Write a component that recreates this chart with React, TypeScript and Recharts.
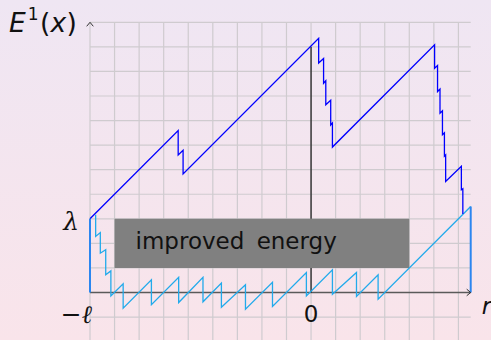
import React from "react";
import {
  ComposedChart,
  Line,
  XAxis,
  YAxis,
  CartesianGrid,
  ReferenceArea,
  ReferenceDot,
} from "recharts";

// grid ticks
const xTicks = [-9, -8, -7, -6, -5, -4, -3, -2, -1, 0, 1, 2, 3, 4, 5, 6];
const yTicks = [-2, -1, 0, 1, 2, 3, 4, 5, 6, 7, 8, 9, 10, 11];

// upper (dark blue) energy path
const upperPath = [
  { x: -9, y: 3 },
  { x: -5.41, y: 6.59 },
  { x: -5.41, y: 5.6 },
  { x: -5.21, y: 5.79 },
  { x: -5.21, y: 4.83 },
  { x: 0.31, y: 10.35 },
  { x: 0.31, y: 9.34 },
  { x: 0.51, y: 9.53 },
  { x: 0.51, y: 8.52 },
  { x: 0.6, y: 8.62 },
  { x: 0.6, y: 7.64 },
  { x: 0.8, y: 7.83 },
  { x: 0.8, y: 6.82 },
  { x: 0.87, y: 6.9 },
  { x: 0.87, y: 5.92 },
  { x: 5.03, y: 10.08 },
  { x: 5.03, y: 9.13 },
  { x: 5.15, y: 9.24 },
  { x: 5.15, y: 8.18 },
  { x: 5.25, y: 8.28 },
  { x: 5.25, y: 7.3 },
  { x: 5.35, y: 7.4 },
  { x: 5.35, y: 6.42 },
  { x: 5.43, y: 6.5 },
  { x: 5.43, y: 5.55 },
  { x: 5.48, y: 5.6 },
  { x: 5.48, y: 4.52 },
  { x: 6.12, y: 5.14 },
  { x: 6.12, y: 4.18 },
  { x: 6.18, y: 4.22 },
  { x: 6.18, y: 3.2 },
];

// lower (light blue) improved path
const lowerPath = [
  { x: -8.77, y: 3.16 },
  { x: -8.77, y: 2.28 },
  { x: -8.58, y: 2.44 },
  { x: -8.58, y: 1.6 },
  { x: -8.36, y: 1.74 },
  { x: -8.36, y: 0.72 },
  { x: -8.15, y: 0.88 },
  { x: -8.15, y: -0.14 },
  { x: -7.65, y: 0.35 },
  { x: -7.65, y: -0.64 },
  { x: -6.5, y: 0.52 },
  { x: -6.5, y: -0.5 },
  { x: -5.39, y: 0.62 },
  { x: -5.39, y: -0.41 },
  { x: -4.4, y: 0.62 },
  { x: -4.4, y: -0.38 },
  { x: -3.65, y: 0.38 },
  { x: -3.65, y: -0.6 },
  { x: -2.67, y: 0.31 },
  { x: -2.67, y: -0.68 },
  { x: -1.57, y: 0.41 },
  { x: -1.57, y: -0.57 },
  { x: -0.19, y: 0.81 },
  { x: -0.19, y: -0.14 },
  { x: 0.87, y: 0.92 },
  { x: 0.87, y: -0.07 },
  { x: 1.85, y: 0.81 },
  { x: 1.85, y: -0.16 },
  { x: 2.73, y: 0.72 },
  { x: 2.73, y: -0.27 },
  { x: 6.5, y: 3.5 },
];

const leftEdge = [
  { x: -9, y: 0 },
  { x: -9, y: 3 },
];
const rightEdge = [
  { x: 6.5, y: 3.5 },
  { x: 6.5, y: 0 },
];
const zeroLineLow = [
  { x: 0, y: 0 },
  { x: 0, y: 1 },
];
const zeroLineHigh = [
  { x: 0, y: 3 },
  { x: 0, y: 10 },
];
const xAxisLine = [
  { x: -9, y: 0 },
  { x: 6.5, y: 0 },
];

const boxX = [-8, 4];
const boxY = [1, 3];
const boxText = "improved energy";

const sans = "'DejaVu Sans', sans-serif";
const serif = "'DejaVu Serif', serif";

const noTick = () => <g />;

export default function App() {
  return (
    <div
      style={{
        position: "absolute",
        left: 0,
        top: 0,
        width: 491,
        height: 340,
        overflow: "hidden",
        background: "linear-gradient(to bottom, #efe6f3, #f9e4ea)",
      }}
    >
      <ComposedChart
        width={491}
        height={344}
        margin={{ top: 22.3, left: 90, right: 20.3, bottom: 2.4 }}
      >
        <CartesianGrid
          stroke="#cfcbcf"
          strokeWidth={1.2}
          horizontalValues={yTicks}
          verticalValues={xTicks}
        />
        <XAxis
          type="number"
          dataKey="x"
          domain={[-9, 6.5]}
          ticks={xTicks}
          interval={0}
          height={0}
          tick={noTick}
          tickLine={false}
          axisLine={false}
        />
        <YAxis
          type="number"
          dataKey="y"
          domain={[-2, 11]}
          ticks={yTicks}
          interval={0}
          width={0}
          tick={noTick}
          tickLine={false}
          axisLine={{ stroke: "#9c9c9c", strokeWidth: 1.6 }}
        />
        <Line data={xAxisLine} dataKey="y" stroke="#5a5a5a" strokeWidth={1.6} dot={false} isAnimationActive={false} />
        <Line data={zeroLineLow} dataKey="y" stroke="#000" strokeWidth={1.1} dot={false} isAnimationActive={false} />
        <Line data={zeroLineHigh} dataKey="y" stroke="#000" strokeWidth={1.1} dot={false} isAnimationActive={false} />
        <Line data={lowerPath} dataKey="y" stroke="#22aaeb" strokeWidth={1.3} dot={false} isAnimationActive={false} />
        <Line data={upperPath} dataKey="y" stroke="#0000ff" strokeWidth={1.3} dot={false} isAnimationActive={false} />
        <Line data={leftEdge} dataKey="y" stroke="#2b86f0" strokeWidth={2} dot={false} isAnimationActive={false} />
        <Line data={rightEdge} dataKey="y" stroke="#2b86f0" strokeWidth={2} dot={false} isAnimationActive={false} />
        <ReferenceArea
          x1={boxX[0]}
          x2={boxX[1]}
          y1={boxY[0]}
          y2={boxY[1]}
          fill="#808080"
          fillOpacity={1}
          stroke="none"
        />
        <ReferenceDot
          x={boxX[0]}
          y={boxY[1]}
          ifOverflow="visible"
          shape={(p: any) => (
            <text x={p.cx + 21} y={p.cy + 30.3} fontFamily={sans} fontSize={23} wordSpacing={5} fill="#111">
              {boxText}
            </text>
          )}
        />
        {/* arrow heads */}
        <ReferenceDot
          x={-9}
          y={11}
          ifOverflow="visible"
          shape={(p: any) => (
            <path
              d={`M${p.cx - 3.3},${p.cy + 4} L${p.cx},${p.cy} L${p.cx + 3.3},${p.cy + 4}`}
              stroke="#333"
              fill="none"
              strokeWidth={1}
            />
          )}
        />
        <ReferenceDot
          x={6.5}
          y={0}
          ifOverflow="visible"
          shape={(p: any) => (
            <path
              d={`M${p.cx - 4},${p.cy - 3.3} L${p.cx},${p.cy} L${p.cx - 4},${p.cy + 3.3}`}
              stroke="#333"
              fill="none"
              strokeWidth={1}
            />
          )}
        />
        {/* labels */}
        <ReferenceDot
          x={-9}
          y={11}
          ifOverflow="visible"
          shape={(p: any) => (
            <text x={p.cx - 81} y={p.cy + 9.6} fontFamily={sans} fontSize={26.5} fill="#111">
              <tspan fontStyle="italic">E</tspan>
              <tspan fontSize={17} dy={-11.5} dx={2}>1</tspan>
              <tspan dy={11.5} dx={1.5}>(</tspan>
              <tspan fontStyle="italic">x</tspan>
              <tspan dx={0.5}>)</tspan>
            </text>
          )}
        />
        <ReferenceDot
          x={-9}
          y={3}
          ifOverflow="visible"
          shape={(p: any) => (
            <text x={p.cx - 11} y={p.cy + 11} textAnchor="end" fontFamily={serif} fontStyle="italic" fontSize={25} fill="#111">
              λ
            </text>
          )}
        />
        <ReferenceDot
          x={-9}
          y={-1}
          ifOverflow="visible"
          shape={(p: any) => (
            <text x={p.cx + 2} y={p.cy + 5.5} textAnchor="end" fontFamily={serif} fontSize={25} fill="#111">
              −<tspan fontStyle="italic">ℓ</tspan>
            </text>
          )}
        />
        <ReferenceDot
          x={0}
          y={0}
          ifOverflow="visible"
          shape={(p: any) => (
            <text x={p.cx} y={p.cy + 29.5} textAnchor="middle" fontFamily={sans} fontSize={23} fill="#111">
              0
            </text>
          )}
        />
        <ReferenceDot
          x={6.5}
          y={0}
          ifOverflow="visible"
          shape={(p: any) => (
            <text x={p.cx + 11} y={p.cy + 22} fontFamily={sans} fontStyle="italic" fontSize={23} fill="#111">
              r
            </text>
          )}
        />
      </ComposedChart>
    </div>
  );
}
